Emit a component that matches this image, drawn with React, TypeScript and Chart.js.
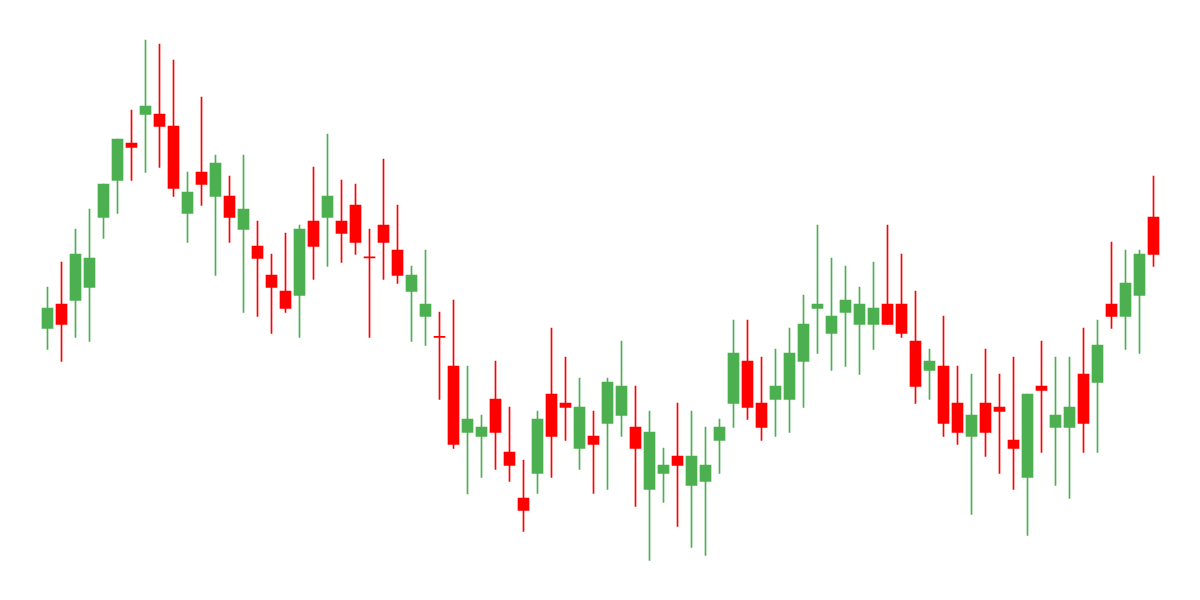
import { useEffect, useRef } from "react";
import { Chart, registerables } from "chart.js";

Chart.register(...registerables);

const opens = [
  54.3, 59.2, 59.9, 62.5, 76.5, 83.9, 91.4, 97.1, 97.2, 94.8,
  77.3, 85.6, 80.7, 80.8, 74.1, 70.8, 65.0, 61.8, 60.9, 75.8,
  76.5, 75.8, 79.0, 68.4, 75.0, 70.0, 61.7, 56.7, 52.5, 46.8,
  33.5, 32.7, 40.2, 29.6, 20.4, 25.3, 41.2, 39.4, 30.3, 32.8,
  35.3, 36.9, 34.6, 22.1, 25.3, 28.8, 22.9, 23.7, 31.9, 39.3,
  47.8, 39.4, 40.1, 40.1, 47.7, 58.3, 53.3, 57.5, 55.1, 55.1,
  59.2, 59.2, 51.8, 45.9, 46.8, 39.4, 32.7, 39.4, 38.6, 32.0,
  24.5, 42.8, 34.5, 34.5, 45.2, 43.5, 59.2, 56.7, 60.9, 76.6,
];
const highs = [
  62.6, 67.6, 74.2, 78.2, 83.2, 92.2, 98.0, 112.0, 111.2, 108.0,
  85.6, 100.6, 89.0, 84.8, 89.0, 75.8, 69.2, 73.4, 75.0, 86.6,
  93.2, 84.0, 83.2, 74.2, 88.2, 79.0, 66.8, 70.0, 57.6, 60.0,
  46.8, 37.0, 47.8, 38.6, 28.0, 37.8, 54.4, 48.6, 44.4, 37.8,
  44.4, 51.8, 42.8, 37.8, 30.4, 39.4, 37.8, 34.6, 36.2, 56.0,
  56.0, 48.6, 50.2, 54.4, 61.0, 75.0, 68.4, 66.8, 62.6, 67.6,
  75.0, 69.2, 61.8, 50.2, 56.8, 46.8, 45.2, 50.2, 45.2, 48.6,
  41.2, 51.8, 48.6, 48.6, 54.4, 56.0, 71.6, 70.0, 70.0, 84.8,
];
const lows = [
  50.1, 47.7, 52.5, 51.7, 72.3, 77.3, 83.9, 85.5, 86.5, 80.7,
  71.5, 78.9, 64.9, 71.5, 57.5, 56.7, 53.3, 57.5, 52.5, 64.1,
  66.7, 67.5, 69.1, 52.5, 64.1, 63.3, 51.7, 50.9, 40.1, 30.3,
  21.2, 24.5, 26.1, 23.7, 13.7, 21.3, 24.5, 31.9, 26.1, 21.3,
  22.1, 32.7, 18.7, 7.9, 19.5, 14.7, 10.5, 8.9, 25.3, 34.5,
  36.1, 31.9, 32.7, 33.5, 38.5, 49.3, 45.9, 46.7, 45.1, 50.1,
  55.1, 52.5, 39.3, 40.1, 32.7, 31.1, 17.1, 28.7, 25.3, 22.1,
  12.9, 29.5, 22.9, 20.3, 29.5, 29.5, 54.3, 50.1, 49.3, 66.7,
];
const closes = [
  58.4, 55.1, 69.2, 68.4, 83.2, 92.2, 90.5, 98.8, 94.7, 82.3,
  81.6, 83.1, 87.4, 76.5, 78.2, 68.3, 62.5, 58.3, 74.2, 70.7,
  80.8, 73.3, 71.5, 68.4, 71.5, 64.9, 65.0, 59.2, 52.5, 31.1,
  36.2, 34.6, 33.5, 26.9, 17.9, 36.2, 32.7, 38.5, 38.6, 31.1,
  43.6, 42.8, 30.3, 33.6, 27.0, 26.9, 28.8, 27.0, 34.6, 49.4,
  38.5, 34.5, 42.8, 49.4, 55.2, 59.2, 56.8, 60.0, 59.2, 58.4,
  55.1, 53.3, 42.7, 47.8, 35.3, 33.5, 37.0, 33.5, 37.7, 30.3,
  41.2, 41.9, 37.0, 38.6, 35.3, 51.0, 56.7, 63.4, 69.2, 69.1,
];
const labels = opens.map((_, i) => `Day ${i + 1}`);

const UP = "#4CAF50";
const DOWN = "#FF0000";

export default function App() {
  const ref = useRef<HTMLCanvasElement>(null);
  useEffect(() => {
    const colors = closes.map((c, i) => (c > opens[i] ? UP : DOWN));
    const chart = new Chart(ref.current!, {
      type: "bar",
      data: {
        labels,
        datasets: [
          {
            label: "body",
            data: opens.map((o, i) => [o, closes[i]]) as any,
            backgroundColor: colors,
            borderWidth: 0,
            barThickness: 11,
            minBarLength: 1.2,
            grouped: false,
          } as any,
          {
            label: "wick",
            data: lows.map((l, i) => [l, highs[i]]) as any,
            backgroundColor: colors,
            borderWidth: 0,
            barThickness: 1,
            grouped: false,
          } as any,
        ],
      },
      options: {
        responsive: false,
        animation: false,
        layout: { padding: { left: 40.5, right: 39.5, top: 0, bottom: 0 } },
        plugins: { legend: { display: false }, tooltip: { enabled: false } },
        scales: {
          x: { display: false, offset: true },
          y: { display: false, min: 0, max: 120 },
        },
      },
    });
    return () => chart.destroy();
  }, []);
  return (
    <div style={{ position: "fixed", left: 0, top: 0, width: 1200, height: 600, background: "#fff" }}>
      <canvas ref={ref} width={1200} height={600} style={{ display: "block" }} />
    </div>
  );
}
